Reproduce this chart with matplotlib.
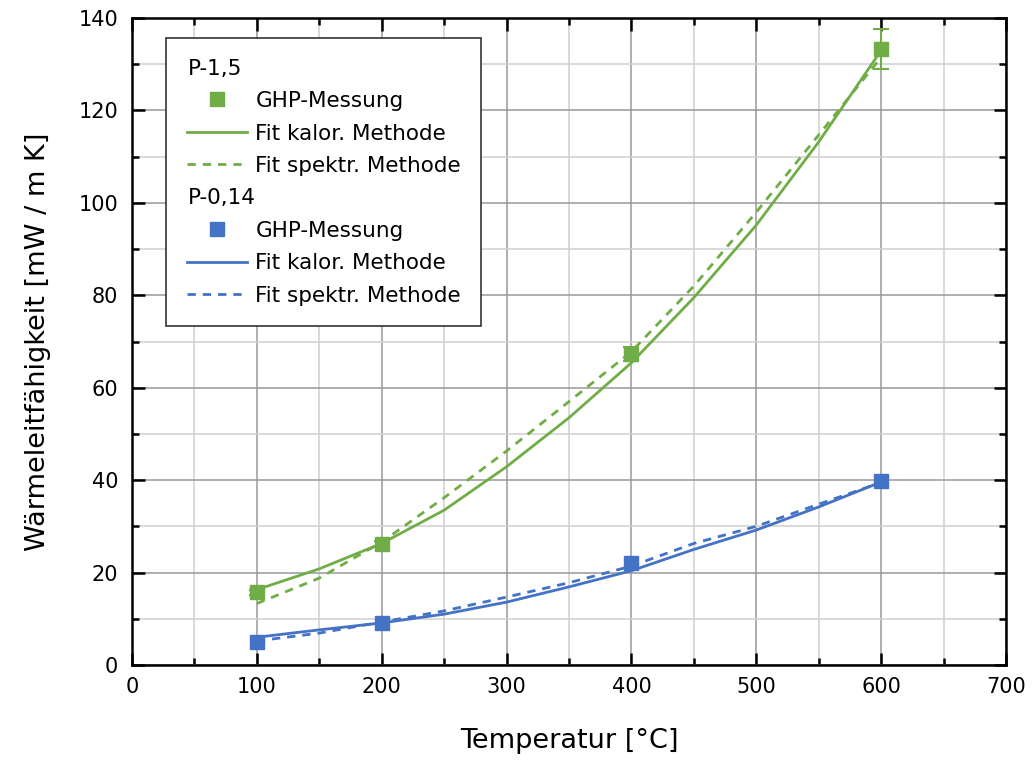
import numpy as np
import matplotlib
matplotlib.use('Agg')
import matplotlib.pyplot as plt
from matplotlib.lines import Line2D
from matplotlib.ticker import MultipleLocator

# Messpunkte (GHP-Messung)
T_mess = [100, 200, 400, 600]
p15_mess = [15.7, 26.2, 67.3, 133.3]
p15_err = [0.5, 0.6, 1.5, 4.3]
p014_mess = [5.0, 9.0, 22.0, 39.8]

# Fit-Kurven
T_fit = [100, 150, 200, 250, 300, 350, 400, 450, 500, 550, 600]
p15_kalor = [16.3, 20.8, 26.3, 33.5, 42.9, 53.5, 65.4, 79.5, 95.2, 113.2, 133.0]
p15_spektr = [13.3, 18.8, 26.6, 36.2, 46.3, 57.0, 67.8, 82.0, 98.0, 114.7, 131.5]
p014_kalor = [6.0, 7.6, 9.1, 11.0, 13.6, 16.9, 20.4, 25.0, 29.2, 34.2, 39.6]
p014_spektr = [5.2, 6.9, 9.3, 11.7, 14.7, 17.8, 21.4, 26.3, 30.0, 34.8, 39.5]

gruen = '#70AD47'
blau = '#4472C4'

plt.rcParams['font.family'] = ['DejaVu Sans']

fig = plt.figure(figsize=(10.35, 7.64), dpi=100)
ax = fig.add_axes([0.1275, 0.1296, 0.8445, 0.8468])

ax.plot(T_fit, p15_kalor, color=gruen, lw=2)
ax.plot(T_fit, p15_spektr, color=gruen, lw=2, ls=(0, (3, 2.5)))
ax.errorbar(T_mess, p15_mess, yerr=p15_err, fmt='s', color=gruen, ms=10,
            capsize=6, elinewidth=1.5, capthick=1.5, zorder=5)

ax.plot(T_fit, p014_kalor, color=blau, lw=2)
ax.plot(T_fit, p014_spektr, color=blau, lw=2, ls=(0, (3, 2.5)))
ax.plot(T_mess, p014_mess, 's', color=blau, ms=10, zorder=5)

ax.set_xlim(0, 700)
ax.set_ylim(0, 140)
ax.xaxis.set_major_locator(MultipleLocator(100))
ax.xaxis.set_minor_locator(MultipleLocator(50))
ax.yaxis.set_major_locator(MultipleLocator(20))
ax.yaxis.set_minor_locator(MultipleLocator(10))

ax.grid(which='major', color='#999999', lw=1.1)
ax.grid(which='minor', color='#d0d0d0', lw=1.1)
ax.set_axisbelow(True)

ax.tick_params(which='both', direction='in', top=True, right=True, width=1.8, labelsize=15)
ax.tick_params(which='major', length=9)
ax.tick_params(which='minor', length=5)
ax.tick_params(axis='x', pad=9)
ax.tick_params(axis='y', pad=10)
for s in ax.spines.values():
    s.set_linewidth(1.8)

ax.set_xlabel('Temperatur [°C]', fontsize=19.5, labelpad=22)
ax.set_ylabel('Wärmeleitfähigkeit [mW / m K]', fontsize=19.5, labelpad=20)

leer = Line2D([], [], ls='none')
handles = [leer,
           Line2D([], [], marker='s', ls='none', color=gruen, ms=10),
           Line2D([], [], color=gruen, lw=2),
           Line2D([], [], color=gruen, lw=2, ls=(0, (3, 2.5))),
           leer,
           Line2D([], [], marker='s', ls='none', color=blau, ms=10),
           Line2D([], [], color=blau, lw=2),
           Line2D([], [], color=blau, lw=2, ls=(0, (3, 2.5)))]
labels = ['P-1,5', 'GHP-Messung', 'Fit kalor. Methode', 'Fit spektr. Methode',
          'P-0,14', 'GHP-Messung', 'Fit kalor. Methode', 'Fit spektr. Methode']
leg = ax.legend(handles, labels, loc='upper left', bbox_to_anchor=(0.039, 0.969),
                borderaxespad=0, fontsize=15.5, frameon=True, fancybox=False,
                edgecolor='#333333', framealpha=1, handlelength=2.8,
                handletextpad=0.4, labelspacing=0.58, borderpad=0.95)
leg.get_frame().set_linewidth(1.2)
for i in (0, 4):
    leg.get_texts()[i].set_position((-68, 0))

fig.savefig('out.png', dpi=100)
